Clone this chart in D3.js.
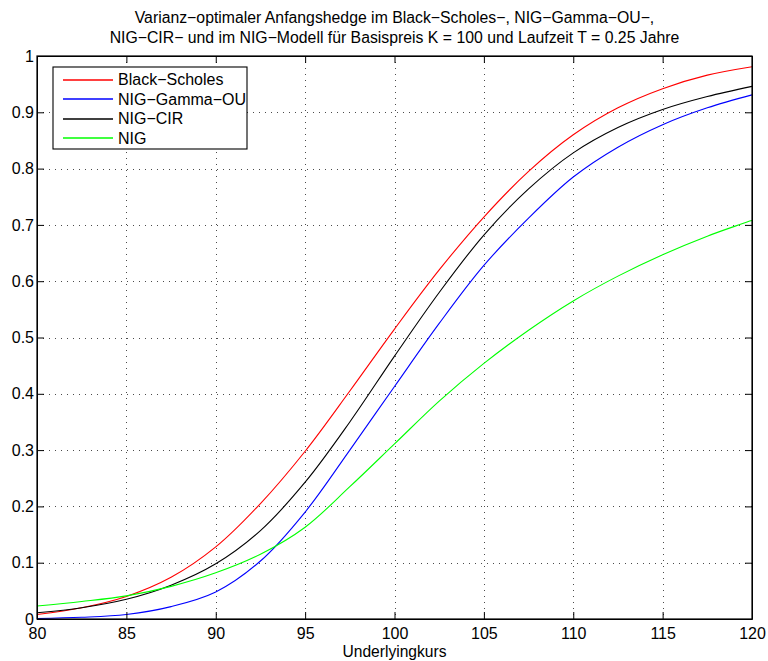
<!DOCTYPE html>
<html>
<head>
<meta charset="utf-8">
<script src="https://cdn.jsdelivr.net/npm/d3@7"></script>
<style>
  html, body { margin: 0; padding: 0; background: #fff; }
  svg { display: block; font-family: "Liberation Sans", Arial, Helvetica, sans-serif; }
</style>
</head>
<body>
<svg id="chart" width="768" height="661"></svg>
<script>
const titleLines = [
  "Varianz\u2212optimaler Anfangshedge im Black\u2212Scholes\u2212, NIG\u2212Gamma\u2212OU\u2212,",
  "NIG\u2212CIR\u2212 und im NIG\u2212Modell f\u00fcr Basispreis K = 100 und Laufzeit T = 0.25 Jahre"
];
const xLabel = "Underlyingkurs";
const xTicks = [80, 85, 90, 95, 100, 105, 110, 115, 120];
const yTicks = [0, 0.1, 0.2, 0.3, 0.4, 0.5, 0.6, 0.7, 0.8, 0.9, 1];
const yTickLabels = ["0", "0.1", "0.2", "0.3", "0.4", "0.5", "0.6", "0.7", "0.8", "0.9", "1"];

const underlying   = [80, 82.5, 85, 87.5, 90, 92.5, 95, 97.5, 100, 102.5, 105, 107.5, 110, 112.5, 115, 117.5, 120];
const blackScholes = [0.008, 0.020, 0.040, 0.074, 0.128, 0.205, 0.298, 0.405, 0.515, 0.620, 0.714, 0.795, 0.860, 0.908, 0.942, 0.966, 0.981];
const nigGammaOU   = [0.001, 0.003, 0.008, 0.022, 0.048, 0.103, 0.190, 0.300, 0.413, 0.525, 0.628, 0.712, 0.785, 0.838, 0.878, 0.908, 0.931];
const nigCIR       = [0.011, 0.020, 0.035, 0.060, 0.098, 0.157, 0.243, 0.350, 0.467, 0.580, 0.682, 0.764, 0.828, 0.873, 0.905, 0.928, 0.946];
const nig          = [0.023, 0.031, 0.041, 0.058, 0.082, 0.115, 0.163, 0.235, 0.311, 0.387, 0.454, 0.513, 0.565, 0.609, 0.647, 0.680, 0.708];

const seriesNames = ["Black\u2212Scholes", "NIG\u2212Gamma\u2212OU", "NIG\u2212CIR", "NIG"];
const seriesColors = ["#ff0000", "#0000ff", "#000000", "#00ff00"];
const seriesValues = [blackScholes, nigGammaOU, nigCIR, nig];

const svg = d3.select("#chart");
const L = 37, R = 752, T = 56, B = 619;

const x = d3.scaleLinear().domain([80, 120]).range([L, R]);
const y = d3.scaleLinear().domain([0, 1]).range([B, T]);

// grid
const grid = svg.append("g").attr("stroke", "#000").attr("stroke-width", 1)
  .attr("stroke-dasharray", "1,5").attr("shape-rendering", "crispEdges").attr("opacity", 0.7);
xTicks.slice(1, -1).forEach(t => {
  grid.append("line").attr("x1", Math.round(x(t)) + 0.5).attr("x2", Math.round(x(t)) + 0.5)
    .attr("y1", T).attr("y2", B);
});
yTicks.slice(1, -1).forEach(t => {
  grid.append("line").attr("y1", Math.round(y(t)) + 0.5).attr("y2", Math.round(y(t)) + 0.5)
    .attr("x1", L).attr("x2", R);
});

// curves
const line = d3.line().x(d => x(d[0])).y(d => y(d[1])).curve(d3.curveCatmullRom.alpha(0.5));
seriesValues.forEach((vals, i) => {
  svg.append("path")
    .datum(underlying.map((u, j) => [u, vals[j]]))
    .attr("fill", "none").attr("stroke", seriesColors[i]).attr("stroke-width", 1.1)
    .attr("d", line);
});

// axes (MATLAB-style inward ticks on all sides)
const tickLen = 7;
const fontSize = 16;
const xAxisB = d3.axisBottom(x).tickValues(xTicks).tickSizeInner(-tickLen).tickSizeOuter(0).tickPadding(9);
const xAxisT = d3.axisTop(x).tickValues(xTicks).tickSizeInner(-tickLen).tickSizeOuter(0).tickFormat("");
const yAxisL = d3.axisLeft(y).tickValues(yTicks).tickSizeInner(-tickLen).tickSizeOuter(0).tickPadding(3)
  .tickFormat((d, i) => yTickLabels[i]);
const yAxisR = d3.axisRight(y).tickValues(yTicks).tickSizeInner(-tickLen).tickSizeOuter(0).tickFormat("");

function styleAxis(g) {
  g.selectAll("path").attr("stroke", "#000");
  g.selectAll("line").attr("stroke", "#000");
  g.selectAll("text").attr("fill", "#000").style("font-size", fontSize + "px")
    .style("font-family", '"Liberation Sans", Arial, sans-serif');
}
svg.append("g").attr("transform", `translate(0,${B})`).call(xAxisB).call(styleAxis);
svg.append("g").attr("transform", `translate(0,${T})`).call(xAxisT).call(styleAxis);
svg.append("g").attr("transform", `translate(${L},0)`).call(yAxisL).call(styleAxis);
svg.append("g").attr("transform", `translate(${R},0)`).call(yAxisR).call(styleAxis);

// frame
svg.append("rect").attr("x", L).attr("y", T).attr("width", R - L).attr("height", B - T)
  .attr("fill", "none").attr("stroke", "#000").attr("stroke-width", 1.2);

// title
titleLines.forEach((t, i) => {
  svg.append("text").attr("x", (L + R) / 2).attr("y", 23 + i * 20)
    .attr("text-anchor", "middle").style("font-size", "15.8px").attr("fill", "#000").text(t);
});

// x label
svg.append("text").attr("x", (L + R) / 2).attr("y", 657)
  .attr("text-anchor", "middle").style("font-size", "15.6px").attr("fill", "#000").text(xLabel);

// legend
const lg = svg.append("g");
lg.append("rect").attr("x", 53).attr("y", 67).attr("width", 194).attr("height", 82)
  .attr("fill", "#fff").attr("stroke", "#000").attr("stroke-width", 1.1);
seriesNames.forEach((n, i) => {
  const yy = 79.5 + i * 19.5;
  lg.append("line").attr("x1", 63).attr("x2", 113).attr("y1", Math.round(yy)).attr("y2", Math.round(yy))
    .attr("stroke", seriesColors[i]).attr("stroke-width", 1.3);
  lg.append("text").attr("x", 118).attr("y", yy + 5.5).style("font-size", "16px")
    .attr("fill", "#000").text(n);
});
</script>
</body>
</html>
